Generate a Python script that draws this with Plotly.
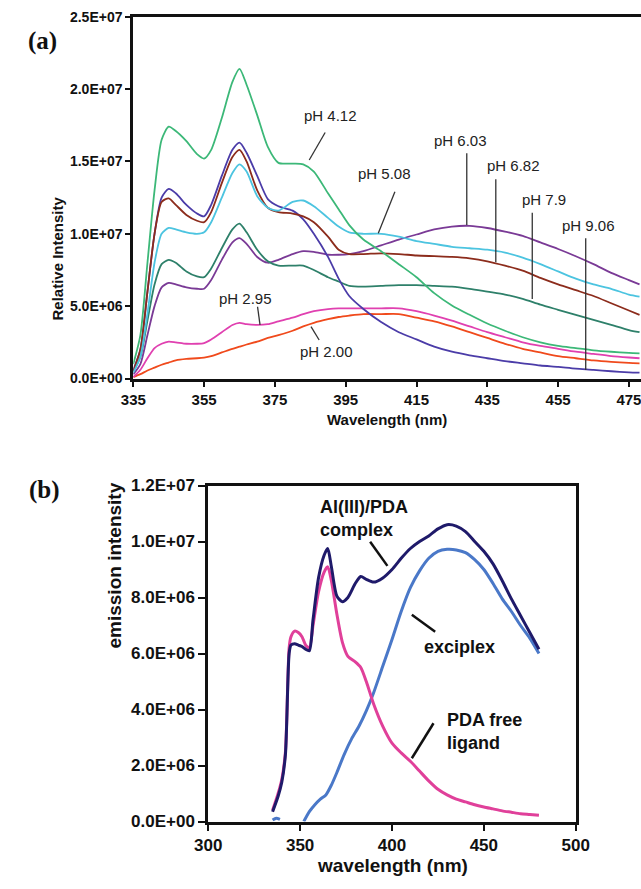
import plotly.graph_objects as go

# ---------------- Panel (a) data ----------------
wl_a = [335, 337, 339, 341, 343, 345, 347, 350, 353, 355, 357, 360, 363, 365, 367, 370,
        373, 376, 380, 383, 386, 390, 393, 396, 400, 405, 410, 415, 420, 425, 430, 435,
        440, 445, 450, 455, 460, 465, 470, 475, 478]

ph412 = [1.0, 3.0, 8.0, 13.0, 16.5, 17.4, 17.1, 16.4, 15.5, 15.2, 15.8, 18.0, 20.5, 21.4, 20.3, 18.2,
         16.0, 14.9, 14.85, 14.8, 14.3, 12.8, 11.7, 10.6, 9.6, 8.8, 7.9, 7.0, 5.9, 5.05, 4.4, 3.8,
         3.3, 2.85, 2.5, 2.25, 2.1, 1.95, 1.85, 1.77, 1.74]
ph508 = [0.4, 1.5, 4.5, 8.0, 10.0, 10.4, 10.3, 10.1, 10.0, 10.1, 10.8, 12.5, 14.2, 14.8, 14.3, 12.6,
         11.8, 11.6, 12.2, 12.3, 11.9, 11.1, 10.5, 10.1, 10.0, 10.0, 9.8, 9.5, 9.3, 9.1, 9.0, 8.9,
         8.7, 8.35, 7.9, 7.4, 6.9, 6.5, 6.2, 5.8, 5.66]
ph682 = [0.5, 2.0, 6.0, 10.0, 12.2, 12.45, 12.0, 11.3, 10.9, 10.8, 11.5, 13.5, 15.3, 15.8, 15.0, 13.0,
         11.8, 11.5, 11.4, 11.2, 10.8, 9.8, 8.9, 8.6, 8.6, 8.65, 8.6, 8.5, 8.45, 8.4, 8.3, 8.1,
         7.8, 7.45, 6.95, 6.5, 6.1, 5.7, 5.2, 4.7, 4.4]
ph906 = [0.6, 2.0, 6.0, 10.0, 12.5, 13.1, 12.8, 12.0, 11.4, 11.2, 12.0, 14.0, 15.8, 16.3, 15.6, 14.0,
         12.4, 11.9, 11.6, 11.0, 10.0, 8.4, 6.9, 5.7, 4.8, 3.9, 3.2, 2.7, 2.2, 1.85, 1.6, 1.4,
         1.2, 1.05, 0.9, 0.8, 0.68, 0.6, 0.5, 0.43, 0.4]
ph79 = [0.5, 1.5, 4.0, 6.5, 7.9, 8.2, 8.0, 7.4, 7.05, 7.0, 7.6, 9.0, 10.3, 10.7, 10.1, 8.9,
        8.1, 7.8, 7.8, 7.8, 7.5, 7.0, 6.7, 6.4, 6.35, 6.4, 6.45, 6.45, 6.4, 6.35, 6.2, 6.0,
        5.8, 5.5, 5.1, 4.75, 4.4, 4.05, 3.7, 3.35, 3.2]
ph603 = [0.3, 1.0, 3.0, 5.0, 6.3, 6.6, 6.5, 6.3, 6.2, 6.2, 6.8, 8.2, 9.4, 9.7, 9.3, 8.4,
         8.0, 8.2, 8.6, 8.8, 8.75, 8.55, 8.55, 8.6, 8.8, 9.2, 9.6, 9.95, 10.3, 10.5, 10.55, 10.4,
         10.15, 9.85, 9.4, 8.95, 8.45, 7.9, 7.3, 6.8, 6.5]
ph295 = [0.1, 0.6, 1.4, 2.1, 2.4, 2.55, 2.5, 2.4, 2.4, 2.45, 2.7, 3.2, 3.7, 3.85, 3.75, 3.7,
         3.75, 3.95, 4.2, 4.45, 4.65, 4.8, 4.85, 4.85, 4.85, 4.85, 4.85, 4.65, 4.35, 4.0, 3.6, 3.2,
         2.85, 2.5, 2.25, 2.05, 1.85, 1.7, 1.55, 1.45, 1.4]
ph200 = [0.1, 0.3, 0.55, 0.75, 0.95, 1.1, 1.25, 1.35, 1.4, 1.45, 1.55, 1.8, 2.05, 2.2, 2.35, 2.55,
         2.8, 3.0, 3.3, 3.6, 3.85, 4.1, 4.25, 4.35, 4.45, 4.45, 4.45, 4.2, 3.95, 3.6, 3.2, 2.8,
         2.4, 2.05, 1.8, 1.55, 1.4, 1.25, 1.15, 1.08, 1.05]

series_a = [
    ("pH 2.00", ph200, "#f04a1c"),
    ("pH 2.95", ph295, "#e040b0"),
    ("pH 6.03", ph603, "#7a3a96"),
    ("pH 7.9", ph79, "#2e806a"),
    ("pH 9.06", ph906, "#4b3ca8"),
    ("pH 6.82", ph682, "#8c2c1c"),
    ("pH 5.08", ph508, "#4cc4e0"),
    ("pH 4.12", ph412, "#3cb878"),
]
scale_a = 1e6

yticks_a = [0, 5e6, 1e7, 1.5e7, 2e7, 2.5e7]
yticktext_a = ["0.0E+00", "5.0E+06", "1.0E+07", "1.5E+07", "2.0E+07", "2.5E+07"]
xticks_a = [335, 355, 375, 395, 415, 435, 455, 475]

# label text, text position (wl, value 1e6), leader start, leader end
labels_a = [
    ("pH 4.12", (390.6, 18.2), (389.2, 17.0), (384.7, 15.1)),
    ("pH 5.08", (406.1, 14.18), (408.9, 12.9), (404.2, 10.03)),
    ("pH 6.03", (427.3, 16.43), (429.2, 15.56), (429.2, 10.6)),
    ("pH 6.82", (442.5, 14.69), (437.4, 13.77), (437.4, 8.03)),
    ("pH 7.9", (451.0, 12.34), (447.7, 11.46), (447.7, 5.49)),
    ("pH 9.06", (463.7, 10.56), (462.8, 9.69), (462.8, 0.59)),
    ("pH 2.95", (366.6, 5.54), (370.1, 4.96), (370.8, 3.7)),
    ("pH 2.00", (389.5, 1.84), (385.2, 3.58), (387.5, 2.66)),
]

# ---------------- Panel (b) data ----------------
wl_free = [335, 338, 340, 342, 344, 345, 347, 349, 351, 353, 355, 357, 360, 363, 365, 367, 370,
           373, 376, 380, 383, 386, 390, 395, 400, 405, 410, 415, 420, 425, 430, 435, 440, 445,
           450, 455, 460, 465, 470, 475, 480]
free_ligand = [0.4, 1.0, 1.5, 2.5, 6.2, 6.6, 6.8, 6.75, 6.6, 6.3, 6.2, 7.0, 8.2, 8.9, 9.1, 8.6, 7.4,
               6.4, 5.9, 5.7, 5.5, 5.0, 4.2, 3.4, 2.8, 2.45, 2.15, 1.8, 1.45, 1.15, 0.95, 0.8, 0.7,
               0.6, 0.52, 0.45, 0.38, 0.33, 0.28, 0.25, 0.22]
complex_al = [0.35, 0.9, 1.4, 2.4, 6.0, 6.3, 6.35, 6.3, 6.25, 6.15, 6.1, 7.2, 8.7, 9.5, 9.75, 9.1, 8.05,
              7.85, 8.0, 8.5, 8.75, 8.65, 8.55, 8.7, 9.0, 9.4, 9.75, 10.0, 10.2, 10.45, 10.6, 10.55,
              10.35, 10.0, 9.65, 9.2, 8.6, 7.95, 7.35, 6.75, 6.15]
wl_exc = [335, 337, 339, 341, 352, 355, 358, 361, 364, 367, 370, 374, 378, 382, 386, 390, 395, 400,
          405, 410, 415, 420, 425, 430, 435, 440, 445, 450, 455, 460, 465, 470, 475, 480]
exciplex = [0.05, 0.12, 0.08, None, 0.0, 0.35, 0.6, 0.8, 0.95, 1.3, 1.75, 2.4, 2.95, 3.4, 3.95, 4.6,
            5.55, 6.5, 7.5, 8.35, 8.95, 9.4, 9.65, 9.72, 9.7, 9.6, 9.35, 9.0, 8.5, 7.95, 7.5, 7.0,
            6.55, 6.0]
scale_b = 1e6

yticks_b = [0, 2e6, 4e6, 6e6, 8e6, 1e7, 1.2e7]
yticktext_b = ["0.0E+00", "2.0E+06", "4.0E+06", "6.0E+06", "8.0E+06", "1.0E+07", "1.2E+07"]
xticks_b = [300, 350, 400, 450, 500]

# label text, left-anchored text position, leader start, leader end
labels_b = [
    ("Al(III)/PDA<br>complex", (359.8, 10.81), (388.1, 9.99), (397.5, 9.13)),
    ("exciplex", (416.3, 6.24), (410.8, 7.38), (423.5, 6.78)),
    ("PDA free<br>ligand", (429.0, 3.21), (422.6, 3.51), (410.8, 2.26)),
]

W, H = 641, 889

def px(x):
    return x / W

def py(y):
    return 1 - y / H

fig = go.Figure()

for name, vals, col in series_a:
    fig.add_trace(go.Scatter(x=wl_a, y=[v * scale_a for v in vals], mode="lines", name=name,
                             line=dict(color=col, width=1.8, shape="spline", smoothing=0.7),
                             xaxis="x", yaxis="y", showlegend=False))

fig.add_trace(go.Scatter(x=wl_exc, y=[None if v is None else v * scale_b for v in exciplex],
                         mode="lines", line=dict(color="#4a78c8", width=3, shape="spline", smoothing=0.7),
                         xaxis="x2", yaxis="y2", showlegend=False, connectgaps=False))
fig.add_trace(go.Scatter(x=wl_free, y=[v * scale_b for v in free_ligand], mode="lines",
                         line=dict(color="#e0409a", width=3, shape="spline", smoothing=0.7),
                         xaxis="x2", yaxis="y2", showlegend=False))
fig.add_trace(go.Scatter(x=wl_free, y=[v * scale_b for v in complex_al], mode="lines",
                         line=dict(color="#1f1a6a", width=3, shape="spline", smoothing=0.7),
                         xaxis="x2", yaxis="y2", showlegend=False))

shapes = []
annotations = []
for text, tpos, l0, l1 in labels_a:
    annotations.append(dict(x=tpos[0], y=tpos[1] * scale_a, xref="x", yref="y", text=text,
                            showarrow=False, font=dict(family="Arial", size=15, color="#222")))
    shapes.append(dict(type="line", xref="x", yref="y", x0=l0[0], y0=l0[1] * scale_a,
                       x1=l1[0], y1=l1[1] * scale_a, line=dict(color="#333", width=1.3)))
for text, tpos, l0, l1 in labels_b:
    annotations.append(dict(x=tpos[0], y=tpos[1] * scale_b, xref="x2", yref="y2", text="<b>" + text + "</b>",
                            showarrow=False, align="left", xanchor="left",
                            font=dict(family="Arial", size=18, color="#111")))
    shapes.append(dict(type="line", xref="x2", yref="y2", x0=l0[0], y0=l0[1] * scale_b,
                       x1=l1[0], y1=l1[1] * scale_b, line=dict(color="#111", width=2.5)))

# panel labels and axis titles
annotations += [
    dict(x=px(26), y=py(25), xref="paper", yref="paper", text="<b>(a)</b>", showarrow=False,
         font=dict(family="Liberation Serif", size=25, color="#111")),
    dict(x=px(27), y=py(490), xref="paper", yref="paper", text="<b>(b)</b>", showarrow=False,
         font=dict(family="Liberation Serif", size=25, color="#111")),
    dict(x=px(46), y=py(195), xref="paper", yref="paper", text="<b>Relative Intensity</b>",
         textangle=-90, showarrow=False, font=dict(family="Arial", size=15, color="#111")),
    dict(x=px(387), y=py(419), xref="paper", yref="paper", text="<b>Wavelength (nm)</b>",
         showarrow=False, font=dict(family="Arial", size=15, color="#111")),
    dict(x=px(101), y=py(651), xref="paper", yref="paper", text="<b>emission intensity</b>",
         textangle=-90, showarrow=False, font=dict(family="Arial", size=19, color="#111")),
    dict(x=px(392), y=py(878), xref="paper", yref="paper", text="<b>wavelength (nm)</b>",
         showarrow=False, font=dict(family="Arial", size=19, color="#111")),
]

tickfont_b = dict(family="Arial", size=17, color="#111")

fig.update_layout(
    width=W, height=H, margin=dict(l=0, r=0, t=0, b=0, pad=0, autoexpand=False),
    paper_bgcolor="white", plot_bgcolor="white",
    xaxis=dict(domain=[px(133.3), 1], range=[335, 335 + (641 - 133.3) / 3.54],
               tickvals=xticks_a, ticktext=["<b>" + str(t) + "</b>" for t in xticks_a],
               showgrid=False, zeroline=False, showline=True, linecolor="#111", linewidth=3,
               mirror=True, ticks="outside", ticklen=5, tickwidth=2, tickcolor="#111",
               ticklabeloverflow="allow",
               tickfont=dict(family="Arial", size=15, color="#111"), anchor="y", automargin=False),
    yaxis=dict(domain=[py(378.5), py(16.7)], range=[0, 2.5e7],
               tickvals=yticks_a, ticktext=["<b>" + t + "</b>" for t in yticktext_a],
               showgrid=False, zeroline=False, showline=True, linecolor="#111", linewidth=3,
               ticks="outside", ticklen=5, tickwidth=2, tickcolor="#111",
               tickfont=dict(family="Arial", size=14, color="#111"), anchor="x", automargin=False),
    xaxis2=dict(domain=[px(208.3), px(575.7)], range=[300, 500],
                tickvals=xticks_b, ticktext=["<b>" + str(t) + "</b>" for t in xticks_b],
                showgrid=False, zeroline=False, showline=True, linecolor="#111", linewidth=3,
                mirror=True, ticks="outside", ticklen=6, tickwidth=2, tickcolor="#111",
                tickfont=tickfont_b, anchor="y2", automargin=False),
    yaxis2=dict(domain=[py(821.5), py(485.5)], range=[0, 1.2e7],
                tickvals=yticks_b, ticktext=["<b>" + t + "</b>" for t in yticktext_b],
                showgrid=False, zeroline=False, showline=True, linecolor="#111", linewidth=3,
                mirror=True, ticks="outside", ticklen=7, tickwidth=2, tickcolor="#111",
                tickfont=tickfont_b, anchor="x2", automargin=False),
    shapes=shapes, annotations=annotations,
)

fig.write_html("out.html", config={"displayModeBar": False},
               post_script="document.body.style.margin='0';document.body.style.overflow='hidden';")
